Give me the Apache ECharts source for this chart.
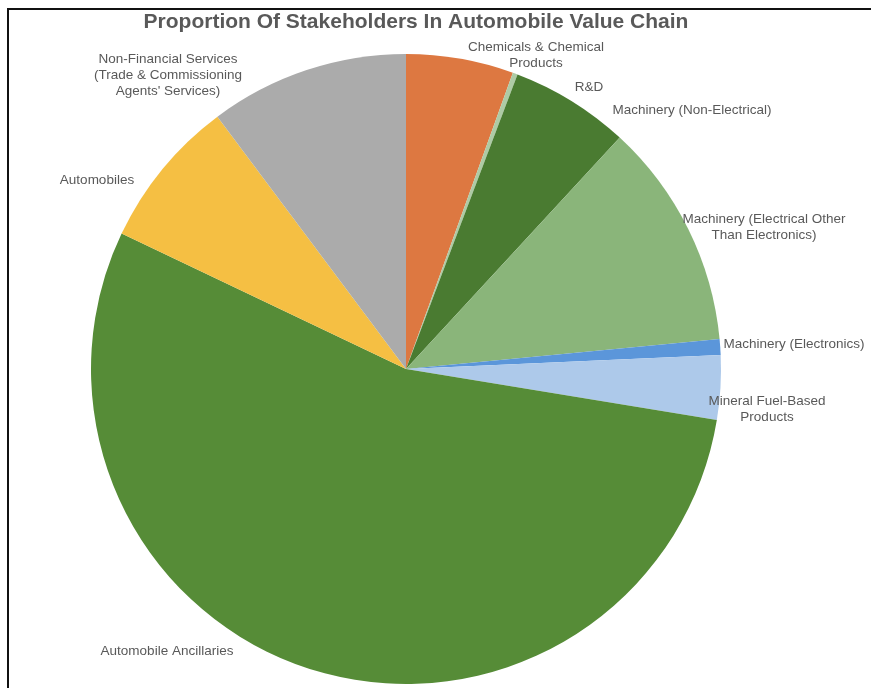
<!DOCTYPE html>
<html>
<head>
<meta charset="utf-8">
<script src="https://cdn.jsdelivr.net/npm/echarts@6/dist/echarts.min.js"></script>
<style>
  html, body { margin: 0; padding: 0; background: #fff; }
  #chart { width: 871px; height: 688px; }
</style>
</head>
<body>
<div id="chart"></div>
<script>
// Stakeholder categories, clockwise from 12 o'clock
const categories = [
  'Chemicals & Chemical\nProducts',
  'R&D',
  'Machinery (Non-Electrical)',
  'Machinery (Electrical Other\nThan Electronics)',
  'Machinery (Electronics)',
  'Mineral Fuel-Based\nProducts',
  'Automobile Ancillaries',
  'Automobiles',
  'Non-Financial Services\n(Trade & Commissioning\nAgents\' Services)'
];
// Share of stakeholders (%)
const shares = [5.5, 0.25, 6.1, 11.6, 0.8, 3.3, 54.4, 7.7, 10.2];

// Slice colours
const colors = ['#DD7841', '#AECBA5', '#4A7B31', '#8AB57A', '#5B96DA', '#ADC9EA', '#568C37', '#F5BF43', '#ABABAB'];
// Label anchor points (px), one per slice
const labelAnchors = [
  [536, 55], [589, 87], [692, 110], [764, 227], [794, 344],
  [767, 409], [167, 651], [97, 180], [168, 75]
];

const chart = echarts.init(document.getElementById('chart'), null, { renderer: 'canvas' });
chart.setOption({
  animation: false,
  backgroundColor: '#ffffff',
  title: {
    text: 'Proportion Of Stakeholders In Automobile Value Chain',
    left: 411,
    top: 17,
    textAlign: 'center',
    textVerticalAlign: 'middle',
    textStyle: {
      fontFamily: 'Liberation Sans, Arial, sans-serif',
      fontWeight: 'bold',
      fontSize: 21,
      color: '#595959'
    }
  },
  graphic: [{
    type: 'rect',
    shape: { x: 8, y: 9, width: 900, height: 700 },
    style: { fill: 'none', stroke: '#111', lineWidth: 2 },
    z: 10
  }],
  series: [{
    type: 'pie',
    center: [406, 369],
    radius: [0, 315],
    startAngle: 90,
    clockwise: true,
    avoidLabelOverlap: false,
    itemStyle: { borderWidth: 0 },
    label: {
      show: true,
      position: 'outside',
      formatter: '{b}',
      fontFamily: 'Liberation Sans, Arial, sans-serif',
      fontSize: 13.5,
      lineHeight: 16,
      color: '#595959',
      align: 'center'
    },
    labelLine: { show: false },
    labelLayout: function (params) {
      const p = labelAnchors[params.dataIndex];
      return { x: p[0], y: p[1], align: 'center', verticalAlign: 'middle' };
    },
    emphasis: { disabled: true },
    data: categories.map((name, i) => ({
      name: name,
      value: shares[i],
      itemStyle: { color: colors[i] }
    }))
  }]
});
</script>
</body>
</html>
